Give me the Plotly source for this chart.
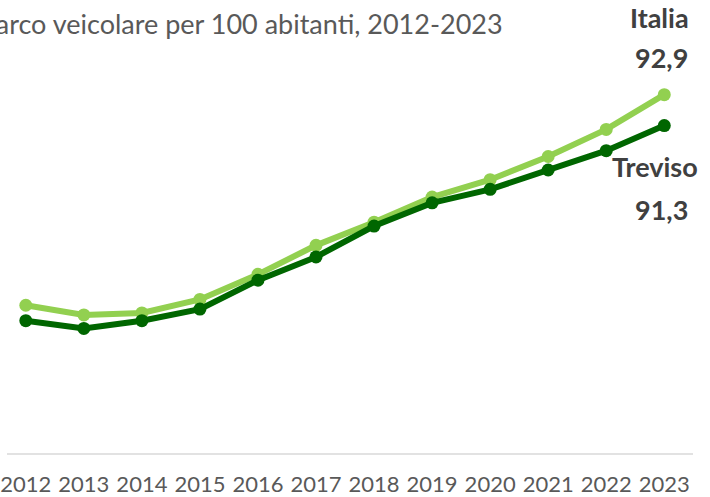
import plotly.graph_objects as go

years = list(range(2012, 2024))
italia = [82.0, 81.5, 81.6, 82.3, 83.6, 85.1, 86.3, 87.6, 88.5, 89.7, 91.1, 92.9]
treviso = [81.2, 80.8, 81.2, 81.8, 83.3, 84.5, 86.1, 87.3, 88.0, 89.0, 90.0, 91.3]

LIGHT = "#92D050"
DARK = "#006600"
GREY = "#595959"

fig = go.Figure()
fig.add_trace(go.Scatter(x=years, y=italia, name="Italia", mode="lines+markers",
                         line=dict(color=LIGHT, width=6), marker=dict(size=13, color=LIGHT)))
fig.add_trace(go.Scatter(x=years, y=treviso, name="Treviso", mode="lines+markers",
                         line=dict(color=DARK, width=6), marker=dict(size=13, color=DARK)))

# end labels
lab_font = dict(family="Lato, sans-serif", size=27, color="#404040")
fig.add_annotation(x=years[-1], y=italia[-1], text="<b>Italia</b>", showarrow=False,
                   xshift=-5, yshift=77, font=lab_font)
fig.add_annotation(x=years[-1], y=italia[-1], text="<b>92,9</b>", showarrow=False,
                   xshift=-3, yshift=37, font=lab_font)
fig.add_annotation(x=years[-1], y=treviso[-1], text="<b>Treviso</b>", showarrow=False,
                   xshift=-9, yshift=-41, font=lab_font)
fig.add_annotation(x=years[-1], y=treviso[-1], text="<b>91,3</b>", showarrow=False,
                   xshift=-3, yshift=-84, font=lab_font)

# title, cut at the left edge as in the original
fig.add_annotation(xref="paper", yref="paper", x=-0.042, y=1.0, xanchor="left", yanchor="top",
                   yshift=-5, text="Parco veicolare per 100 abitanti, 2012-2023", showarrow=False,
                   font=dict(family="Lato, sans-serif", size=27, color=GREY))

fig.update_layout(
    width=710, height=497,
    margin=dict(l=0, r=17, t=0, b=42),
    paper_bgcolor="white", plot_bgcolor="white",
    showlegend=False,
    xaxis=dict(range=[2011.676, 2023.495], tickmode="array", tickvals=years,
               ticktext=[str(y) for y in years], showgrid=False, zeroline=False,
               showline=False, ticks="", ticklabeloverflow="allow", ticklabelstandoff=15,
               tickfont=dict(family="Lato, sans-serif", size=22, color=GREY)),
    yaxis=dict(range=[74.3, 97.8], showgrid=False, zeroline=False, showticklabels=False,
               showline=False),
    shapes=[dict(type="line", xref="paper", yref="paper", x0=0, x1=1, y0=0, y1=0,
                 line=dict(color="#D9D9D9", width=1.5))],
)

fig.write_html("out.html", config={"displayModeBar": False},
               post_script="document.body.style.margin='0';")
